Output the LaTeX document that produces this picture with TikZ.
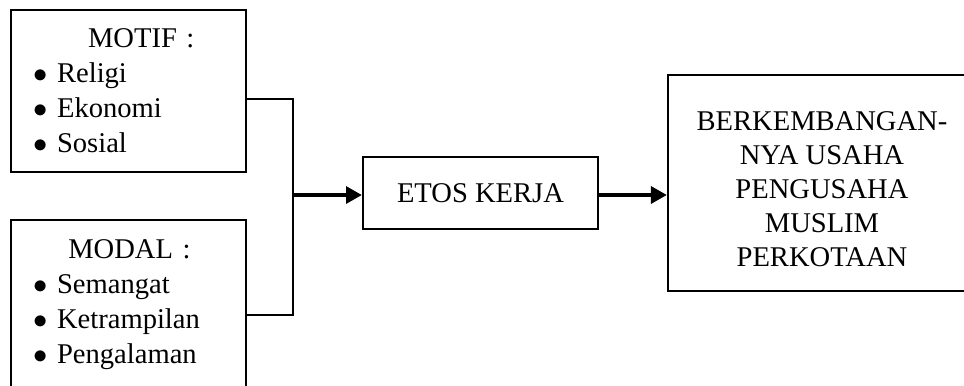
\documentclass[tikz,border=0pt]{standalone}
\usepackage{fontspec}
\setmainfont{Liberation Serif}
\usepackage{tikz}
\usetikzlibrary{arrows.meta}
\tikzstyle{listbox} = [rectangle, draw=black, line width=0.85pt, minimum width=98.7pt, text width=80pt, align=left, inner xsep=9.2pt, inner ysep=0pt, font=\fontsize{12}{14.7}\selectfont]
\tikzstyle{process} = [rectangle, draw=black, line width=0.85pt, minimum width=98.7pt, minimum height=30.2pt, text centered, font=\fontsize{12}{14.5}\selectfont]
\tikzstyle{result} = [rectangle, draw=black, line width=0.85pt, minimum width=129.4pt, minimum height=90.7pt, align=center, font=\fontsize{12}{14.3}\selectfont]
\tikzstyle{line} = [line width=0.85pt]
\tikzstyle{arrow} = [line width=1.7pt, -{Triangle[length=6.7pt, width=7pt]}]

\begin{document}
\begin{tikzpicture}[x=0.42pt, y=-0.42pt]
	\clip (0,0) rectangle (964,385);
	\node(motif) [listbox, minimum height=68pt] at (128.5,91) {\hspace{23pt}MOTIF :\\ $\bullet$\ Religi\\ $\bullet$\ Ekonomi\\ $\bullet$\ Sosial};
	\node(modal) [listbox, minimum height=71.4pt] at (128.5,305) {\hspace{14.7pt}MODAL :\\ $\bullet$\ Semangat\\ $\bullet$\ Ketrampilan\\ $\bullet$\ Pengalaman};
	\node(etos) [process] at (480.5,193) {ETOS KERJA};
	\node(usaha) [result] at (822,183) {\rule{0pt}{12.9pt}BERKEMBANGAN-\\NYA USAHA\\PENGUSAHA\\MUSLIM\\PERKOTAAN};
	\coordinate(join) at (293,195);

	\draw[line] ([yshift=-3.4pt]motif.east) -| (join);
	\draw[line] ([yshift=-4.2pt]modal.east) -| (join);
	\draw[arrow] (join) -- (join -| etos.west);
	\draw[arrow] (join -| etos.east) -- (join -| usaha.west);
\end{tikzpicture}
\end{document}
